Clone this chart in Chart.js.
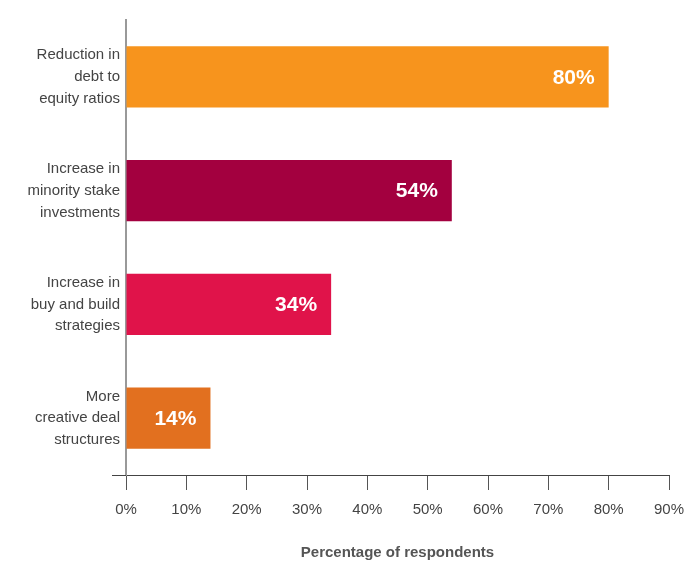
<!DOCTYPE html>
<html lang="en">
<head>
<meta charset="UTF-8">
<title>Percentage of respondents</title>
<script src="https://cdn.jsdelivr.net/npm/chart.js@4.4.0/dist/chart.umd.min.js"></script>
<style>
  html, body { margin: 0; padding: 0; background: #fff; }
  #wrap { width: 685px; height: 562px; }
</style>
</head>
<body>
<div id="wrap"><canvas id="myChart" width="685" height="562"></canvas></div>
<script>
    const categories = [
        ['Reduction in', 'debt to', 'equity ratios'],
        ['Increase in', 'minority stake', 'investments'],
        ['Increase in', 'buy and build', 'strategies'],
        ['More', 'creative deal', 'structures']
    ];
    const values = [80, 54, 34, 14];
    const barColors = ['#f7941d', '#a3003f', '#e0134a', '#e2701f'];
    const xTicks = [0, 10, 20, 30, 40, 50, 60, 70, 80, 90];

    const narrow = "'Liberation Sans Narrow', 'Arial Narrow', 'Liberation Sans', sans-serif";

    // white value text at the inner end of each bar, plus the axis stub left of 0%
    const barLabels = {
        id: 'barLabels',
        afterDatasetsDraw(chart) {
            const ctx = chart.ctx;
            const meta = chart.getDatasetMeta(0);
            ctx.save();
            ctx.fillStyle = '#ffffff';
            ctx.font = "bold 21px 'Liberation Sans', Arial, sans-serif";
            ctx.textAlign = 'right';
            ctx.textBaseline = 'middle';
            meta.data.forEach((bar, i) => {
                ctx.fillText(values[i] + '%', bar.x - 14, bar.y + 1);
            });
            const x = chart.scales.x;
            ctx.strokeStyle = '#444';
            ctx.lineWidth = 1;
            ctx.beginPath();
            ctx.moveTo(x.left - 14, x.top + 0.5);
            ctx.lineTo(x.left, x.top + 0.5);
            ctx.stroke();
            ctx.restore();
        }
    };

    const ctx = document.getElementById('myChart').getContext('2d');
    new Chart(ctx, {
        type: 'bar',
        data: {
            labels: categories,
            datasets: [{
                data: values,
                backgroundColor: barColors,
                borderWidth: 0,
                categoryPercentage: 1,
                barPercentage: 0.54
            }]
        },
        options: {
            indexAxis: 'y',
            responsive: false,
            animation: false,
            layout: { padding: { top: 20, right: 16, left: 0, bottom: 0 } },
            plugins: {
                legend: { display: false },
                tooltip: { enabled: false }
            },
            scales: {
                x: {
                    min: 0,
                    max: 90,
                    afterBuildTicks(scale) {
                        scale.ticks = xTicks.map(v => ({ value: v }));
                    },
                    afterFit(scale) {
                        scale.height = 87;
                        scale.paddingRight = 0;
                        scale.paddingLeft = 0;
                    },
                    grid: {
                        drawOnChartArea: false,
                        drawTicks: true,
                        tickLength: 15,
                        tickColor: '#555',
                        lineWidth: 1
                    },
                    border: { display: true, color: '#444', width: 1 },
                    ticks: {
                        color: '#444',
                        font: { family: narrow, size: 15 },
                        padding: 11,
                        maxRotation: 0,
                        callback: v => v + '%'
                    },
                    title: {
                        display: true,
                        text: 'Percentage of respondents',
                        color: '#555',
                        font: { family: narrow, size: 15, weight: 'bold' },
                        padding: { top: 0, bottom: 0 }
                    }
                },
                y: {
                    afterFit(scale) {
                        scale.width = 126;
                        scale.paddingTop = 0;
                        scale.paddingBottom = 0;
                    },
                    grid: { display: false, drawTicks: false },
                    border: { display: true, color: '#999', width: 2 },
                    ticks: {
                        color: '#444',
                        font: { family: narrow, size: 15, lineHeight: 1.45 },
                        padding: 6
                    }
                }
            }
        },
        plugins: [barLabels]
    });
</script>
</body>
</html>
